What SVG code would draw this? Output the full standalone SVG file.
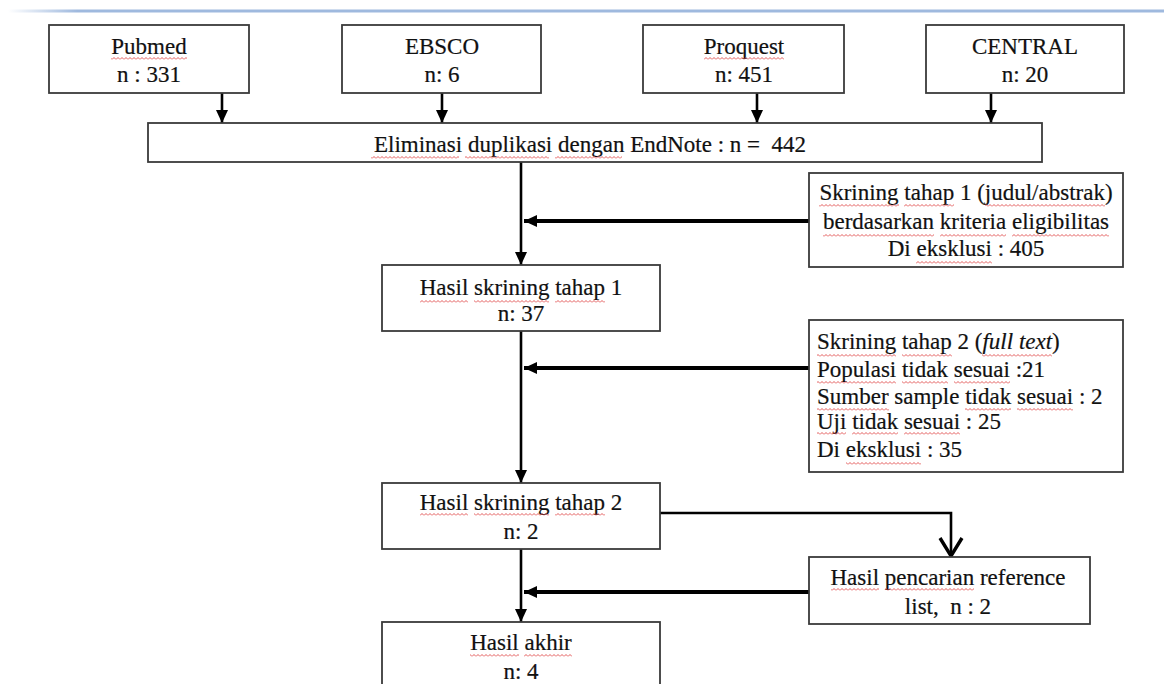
<svg xmlns="http://www.w3.org/2000/svg" width="1164" height="684" viewBox="0 0 1164 684">
<style>
  .box { fill: #ffffff; stroke: #3a3a3a; stroke-width: 1.8; }
  .t { font-family: "Liberation Serif", "Times New Roman", serif; font-size: 23px; fill: #111; stroke: #111; stroke-width: 0.2; }
  .c { text-anchor: middle; }
  .sq { fill: url(#wave); }
  .ln { fill: none; stroke: #000; stroke-width: 2.6; }
  .lnb { fill: none; stroke: #000; stroke-width: 4; }
</style>
<defs>
  <linearGradient id="topline" x1="0" y1="0" x2="1" y2="0">
    <stop offset="0" stop-color="#ffffff"/>
    <stop offset="0.06" stop-color="#9fb9de"/>
    <stop offset="1" stop-color="#9fb9de"/>
  </linearGradient>
  <pattern id="wave" patternUnits="userSpaceOnUse" x="0" y="0" width="4" height="3">
    <polyline points="0,2.5 2,0.5 4,2.5" fill="none" stroke="#e04848" stroke-width="0.9"/>
  </pattern>
  <marker id="ah" markerUnits="userSpaceOnUse" markerWidth="14" markerHeight="14" viewBox="0 0 14 14" refX="13" refY="7" orient="auto">
    <path d="M0,1 L13,7 L0,13 Z" fill="#000"/>
  </marker>
</defs>

<rect x="8" y="9.5" width="1156" height="3" fill="url(#topline)"/>

<g id="connectors">
  <line class="ln" x1="222" y1="93" x2="222" y2="123" marker-end="url(#ah)"/>
  <line class="ln" x1="442" y1="93" x2="442" y2="123" marker-end="url(#ah)"/>
  <line class="ln" x1="757" y1="93" x2="757" y2="123" marker-end="url(#ah)"/>
  <line class="ln" x1="991" y1="93" x2="991" y2="123" marker-end="url(#ah)"/>
  <line class="ln" x1="521" y1="162" x2="521" y2="265" marker-end="url(#ah)"/>
  <line class="lnb" x1="809" y1="221" x2="524" y2="221" marker-end="url(#ah)"/>
  <line class="ln" x1="521" y1="331" x2="521" y2="483" marker-end="url(#ah)"/>
  <line class="lnb" x1="809" y1="368" x2="524" y2="368" marker-end="url(#ah)"/>
  <path class="ln" d="M660,513 H951 V556" stroke-width="3.4"/>
  <polyline points="940,538 951,556 962,538" fill="none" stroke="#000" stroke-width="3.4"/>
  <line class="ln" x1="521" y1="549" x2="521" y2="622" marker-end="url(#ah)"/>
  <line class="lnb" x1="809" y1="592" x2="524" y2="592" marker-end="url(#ah)"/>
</g>

<g id="pubmed">
  <rect class="box" x="49" y="25" width="200" height="68"/>
  <text class="t c" x="149" y="54"><tspan>Pubmed</tspan></text>
  <text class="t c" x="149" y="82">n : 331</text>
  <rect class="sq" x="111" y="57" width="76" height="3"/>
</g>
<g id="ebsco">
  <rect class="box" x="342" y="25" width="199" height="68"/>
  <text class="t c" x="442" y="54">EBSCO</text>
  <text class="t c" x="442" y="82">n: 6</text>
</g>
<g id="proquest">
  <rect class="box" x="643" y="25" width="201" height="68"/>
  <text class="t c" x="744" y="54"><tspan>Proquest</tspan></text>
  <text class="t c" x="744" y="82">n: 451</text>
  <rect class="sq" x="704" y="57" width="80" height="3"/>
</g>
<g id="central">
  <rect class="box" x="926" y="25" width="198" height="68"/>
  <text class="t c" x="1025" y="54">CENTRAL</text>
  <text class="t c" x="1025" y="82">n: 20</text>
</g>

<g id="eliminasi">
  <rect class="box" x="148" y="123" width="894" height="39"/>
  <text class="t c" x="590" y="152" style="white-space:pre"><tspan>Eliminasi</tspan> <tspan>duplikasi</tspan> <tspan>dengan</tspan> EndNote : n =  442</text>
  <rect class="sq" x="371" y="156" width="88" height="3"/>
  <rect class="sq" x="465" y="156" width="84" height="3"/>
  <rect class="sq" x="555" y="156" width="67" height="3"/>
</g>

<g id="skrining1">
  <rect class="box" x="809" y="173" width="314" height="94"/>
  <text class="t c" x="966" y="200"><tspan>Skrining</tspan> <tspan>tahap</tspan> 1 (<tspan>judul/abstrak</tspan>)</text>
  <text class="t c" x="966" y="229"><tspan>berdasarkan</tspan> <tspan>kriteria</tspan> <tspan>eligibilitas</tspan></text>
  <text class="t c" x="966" y="256">Di <tspan>eksklusi</tspan> : 405</text>
  <rect class="sq" x="819" y="204" width="80" height="3"/>
  <rect class="sq" x="904" y="204" width="50" height="3"/>
  <rect class="sq" x="985" y="204" width="120" height="3"/>
  <rect class="sq" x="823" y="234" width="111" height="3"/>
  <rect class="sq" x="940" y="234" width="66" height="3"/>
  <rect class="sq" x="1012" y="234" width="97" height="3"/>
  <rect class="sq" x="916" y="261" width="76" height="3"/>
</g>

<g id="hasil1">
  <rect class="box" x="382" y="265" width="278" height="66"/>
  <text class="t c" x="521" y="295"><tspan>Hasil</tspan> <tspan>skrining</tspan> <tspan>tahap</tspan> 1</text>
  <text class="t c" x="521" y="321">n: 37</text>
  <rect class="sq" x="420" y="300" width="48" height="3"/>
  <rect class="sq" x="474" y="300" width="75" height="3"/>
  <rect class="sq" x="555" y="300" width="50" height="3"/>
</g>

<g id="skrining2">
  <rect class="box" x="809" y="320" width="314" height="152"/>
  <text class="t" x="817" y="349"><tspan>Skrining</tspan> <tspan>tahap</tspan> 2 (<tspan font-style="italic">full text</tspan>)</text>
  <text class="t" x="817" y="377"><tspan>Populasi</tspan> <tspan>tidak</tspan> <tspan>sesuai</tspan> :21</text>
  <text class="t" x="817" y="404"><tspan>Sumber</tspan> sample <tspan>tidak</tspan> <tspan>sesuai</tspan> : 2</text>
  <text class="t" x="817" y="429"><tspan>Uji</tspan> <tspan>tidak</tspan> <tspan>sesuai</tspan> : 25</text>
  <text class="t" x="817" y="457">Di <tspan>eksklusi</tspan> : 35</text>
  <rect class="sq" x="817" y="354" width="79" height="3"/>
  <rect class="sq" x="902" y="354" width="50" height="3"/>
  <rect class="sq" x="982" y="354" width="70" height="3"/>
  <rect class="sq" x="817" y="381" width="79" height="3"/>
  <rect class="sq" x="902" y="381" width="46" height="3"/>
  <rect class="sq" x="954" y="381" width="56" height="3"/>
  <rect class="sq" x="817" y="408" width="72" height="3"/>
  <rect class="sq" x="965" y="408" width="46" height="3"/>
  <rect class="sq" x="1017" y="408" width="56" height="3"/>
  <rect class="sq" x="817" y="432" width="29" height="3"/>
  <rect class="sq" x="852" y="432" width="46" height="3"/>
  <rect class="sq" x="904" y="432" width="56" height="3"/>
  <rect class="sq" x="846" y="462" width="75" height="3"/>
</g>

<g id="hasil2">
  <rect class="box" x="382" y="483" width="278" height="66"/>
  <text class="t c" x="521" y="510"><tspan>Hasil</tspan> <tspan>skrining</tspan> <tspan>tahap</tspan> 2</text>
  <text class="t c" x="521" y="539">n: 2</text>
  <rect class="sq" x="420" y="513" width="48" height="3"/>
  <rect class="sq" x="474" y="513" width="75" height="3"/>
  <rect class="sq" x="555" y="513" width="50" height="3"/>
</g>

<g id="pencarian">
  <rect class="box" x="809" y="557" width="281" height="67"/>
  <text class="t c" x="948" y="585"><tspan>Hasil</tspan> <tspan>pencarian</tspan> reference</text>
  <text class="t c" x="948" y="614" style="white-space:pre">list,  n : 2</text>
  <rect class="sq" x="831" y="588" width="48" height="3"/>
  <rect class="sq" x="885" y="588" width="89" height="3"/>
</g>

<g id="hasilakhir">
  <rect class="box" x="382" y="622" width="278" height="80"/>
  <text class="t c" x="521" y="650"><tspan>Hasil</tspan> <tspan>akhir</tspan></text>
  <text class="t c" x="521" y="679">n: 4</text>
  <rect class="sq" x="470" y="654" width="49" height="3"/>
  <rect class="sq" x="524" y="654" width="48" height="3"/>
</g>
</svg>
